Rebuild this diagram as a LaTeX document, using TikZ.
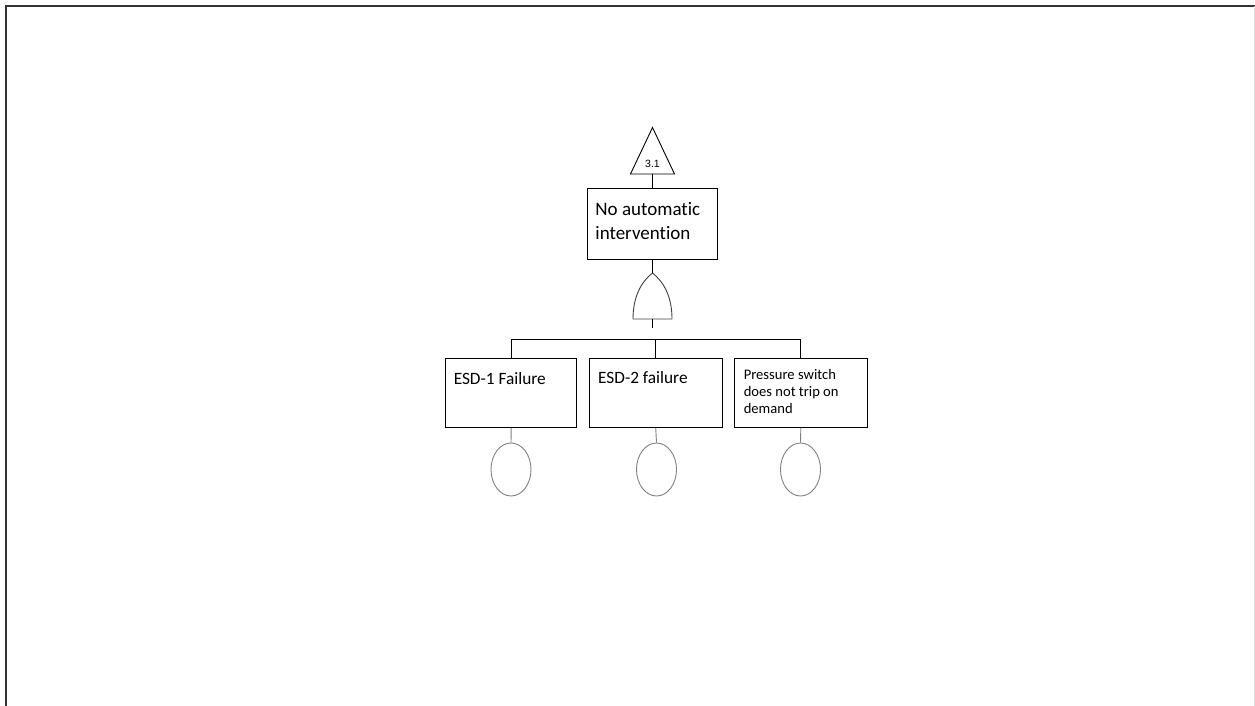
\documentclass[tikz,border=0pt]{standalone}
\usepackage{fontspec}
\setmainfont[Ligatures=NoCommon]{Carlito}
\newfontfamily\arialfont{Liberation Sans}
\usetikzlibrary{shapes.geometric,positioning}

\begin{document}
\begin{tikzpicture}[x=1pt, y=-1pt, line width=0.9pt,
  box/.style={draw, rectangle, inner sep=0pt, minimum height=69pt},
  txt/.style={anchor=north west, inner sep=0pt, align=left},
  basic/.style={draw=gray, ellipse, minimum width=40pt, minimum height=53pt, inner sep=0pt}]
   \useasboundingbox (0,0) rectangle (1255,706);
   % page frame
   \draw[line width=1.6pt, black!80] (6,706) -- (6,6) -- (1255,6);
   \draw[black!15] (1254,6) -- (1254,706);
   % transfer triangle and top event
   \coordinate (tri) at (652.5,174);
   \draw (652.5,127.5) -- (674.5,174) -- (630.5,174) -- cycle;
   \node[anchor=base, inner sep=0pt, font=\arialfont\fontsize{10.5}{12}\selectfont] (t31) at (652.5,167.7) {3.1};
   \node[box, minimum width=130pt, minimum height=71pt] (top) at (652.5,223.5) {};
   \node[txt, font=\fontsize{19}{23.5}\selectfont] (ttop) at (595,202) {No automatic\\intervention};
   \draw (tri) -- (top.north);
   % or gate
   \coordinate (gin) at (652.5,273);
   \coordinate (gout) at (652.5,319);
   \coordinate (gstub) at (652.5,328);
   \draw[black!75] (633,319) -- (672,319) .. controls (672,297) and (664,282) .. (gin)
         .. controls (641,282) and (633,297) .. (633,319) -- cycle;
   \draw (top.south) -- (gin);
   \draw (gout) -- (gstub);
   % basic events
   \begin{scope}[every node/.style={box}]
    \node[minimum width=131pt] (e1) at (511.2,392.8) {};
    \node[minimum width=132.7pt] (e2) at (655.7,392.8) {};
    \node[minimum width=133pt] (e3) at (800.8,392.8) {};
   \end{scope}
   \node[txt, font=\fontsize{17.3}{20}\selectfont] (t1) at (453.3,372) {ESD-1 Failure};
   \node[txt, font=\fontsize{17.3}{20}\selectfont] (t2) at (597.7,371.5) {ESD-2 failure};
   \node[txt, font=\fontsize{14.6}{17}\selectfont] (t3) at (743.3,369.3) {Pressure switch\\does not trip on\\demand};
   \draw (e1.north) -- ++(0,-18.3) -| (e3.north);
   \draw (e2.north) -- ++(0,-18.3);
   \node[basic] (c1) at (511,469.5) {};
   \node[basic] (c2) at (656.5,469.5) {};
   \node[basic] (c3) at (800.5,469.5) {};
   \begin{scope}[every path/.style={draw=gray}]
    \draw (e1.south) -- (c1.north);
    \draw (e2.south) -- (c2.north);
    \draw (e3.south) -- (c3.north);
   \end{scope}
\end{tikzpicture}
\end{document}
